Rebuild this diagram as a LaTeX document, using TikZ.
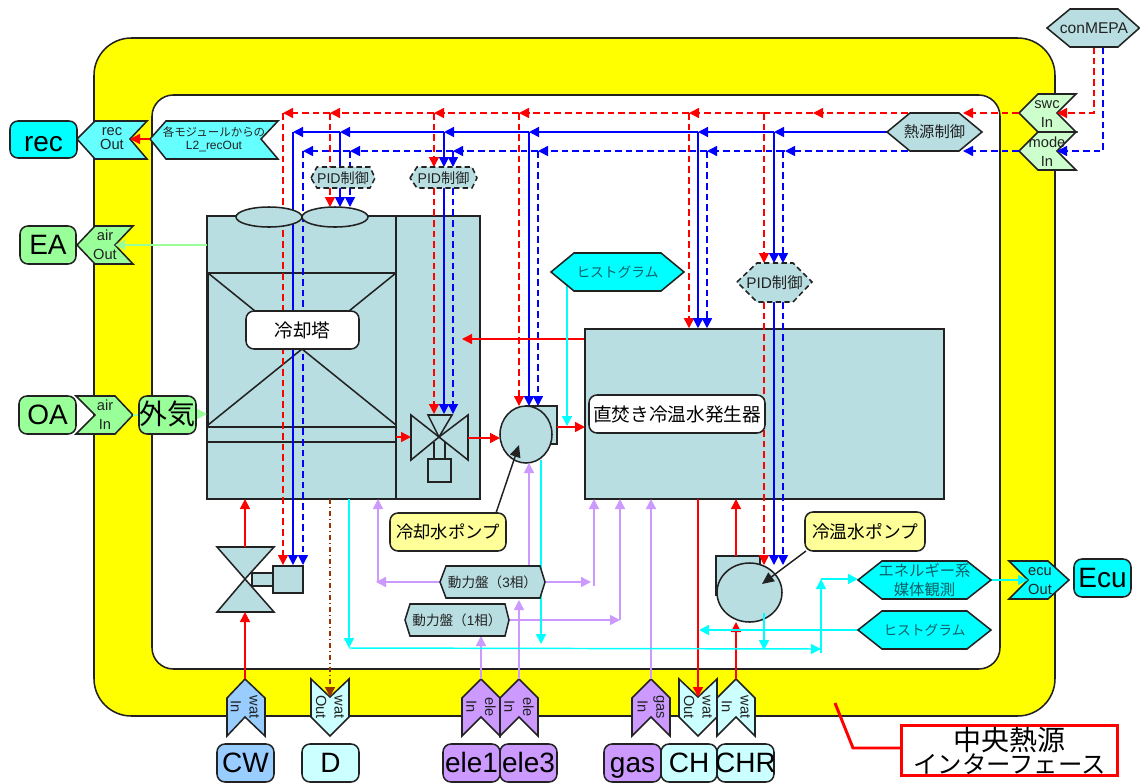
\documentclass[tikz,border=0pt]{standalone}
\usepackage{fontspec}
\setmainfont{Liberation Sans}
\newfontfamily\cjk{Noto Sans CJK JP}
\usetikzlibrary{arrows.meta,shapes.geometric}
\definecolor{cyan}{HTML}{00FFFF}
\definecolor{yellow}{HTML}{FFFF00}
\definecolor{red}{HTML}{FF0000}
\definecolor{blue}{HTML}{0000FF}
\definecolor{bx}{HTML}{B9DEE2}
\definecolor{lgreen}{HTML}{99FF99}
\definecolor{pgreen}{HTML}{CCFFCC}
\definecolor{lpur}{HTML}{CC99FF}
\definecolor{lcy}{HTML}{66FFFF}
\definecolor{pcy}{HTML}{CCFFFF}
\definecolor{lblue}{HTML}{99CCFF}
\definecolor{lyel}{HTML}{FFFF99}
\definecolor{brn}{HTML}{993300}
\definecolor{ink}{HTML}{222222}
\definecolor{teal2}{HTML}{0B6068}
\tikzset{
 ln/.style={draw=ink,line width=1.15pt,line join=miter},
 wh/.style 2 args={minimum width=#1*0.75pt,minimum height=#2*0.75pt},
 rbox/.style={ln,rounded corners=6pt,inner sep=0pt},
 big/.style={font=\fontsize{21}{23}\selectfont,text height=13.5pt,text depth=0pt},
 ptxt/.style={inner sep=0pt,align=center,font=\fontsize{11}{14}\selectfont,text=ink},
 htxt/.style={inner sep=0pt,align=center,text=ink},
 arw/.style={-{Triangle[length=7.5pt,width=7.5pt]}},
 rs/.style={draw=red,line width=1.1pt},
 bs/.style={draw=blue,line width=1.1pt},
 rd/.style={rs,dash pattern=on 5pt off 3pt},
 bd/.style={bs,dash pattern=on 5pt off 3pt},
 cy/.style={draw=cyan,line width=1.1pt},
 pu/.style={draw=lpur,line width=1.1pt},
 gr/.style={draw=lgreen,line width=1.1pt},
}
\begin{document}
\begin{tikzpicture}[x=0.75pt,y=-0.75pt]
\useasboundingbox (0,0) rectangle (1140,783);
% frames
\draw[ln,fill=yellow,rounded corners=28pt] (94,38) rectangle (1055,716);
\draw[ln,fill=white,rounded corners=16pt] (152,95) rectangle (1000,669);
% cooling tower
\draw[ln,fill=bx] (207,216) rectangle (396,499);
\draw[ln,fill=bx] (396,216) rectangle (480,499);
\draw[ln] (208,273) rectangle (396,427);
\draw[ln] (208,273) -- (396,425) (396,273) -- (208,425);
\draw[ln] (208,442) -- (396,442);
% chiller
\node[ln,fill=bx,minimum width=359*0.75pt,minimum height=170*0.75pt,inner sep=0pt] (chiller) at (764.5,414) {};
% valves
\coordinate (vc3) at (439,437);
\draw[ln,fill=bx] (vc3) -- (411,415) -- (411,460) -- cycle;
\draw[ln,fill=bx] (vc3) -- (468,415) -- (468,460) -- cycle;
\draw[ln,fill=bx] (vc3) -- (428,415) -- (452,415) -- cycle;
\draw[ln] (434,442) -- (434,459) (445,442) -- (445,459);
\draw[ln,fill=bx] (428,459) rectangle (451,482);
\coordinate (vc2) at (245,579);
\draw[ln,fill=bx] (vc2) -- (217,547) -- (274,547) -- cycle;
\draw[ln,fill=bx] (vc2) -- (217,612) -- (274,612) -- cycle;
\draw[ln,fill=bx] (252,573) -- (274,573) -- (274,586) -- (252,586) -- cycle;
\draw[ln,fill=bx] (273,566) rectangle (303,593);
% pumps
\draw[ln,fill=bx] (526,406) -- (557,406) -- (557,444) -- (526,444) -- cycle;
\node[ln,fill=bx,ellipse,minimum width=52*0.75pt,minimum height=57*0.75pt,inner sep=0pt] (pump1) at (526,434.5) {};
\draw[ln,fill=bx] (716,595) -- (716,556) -- (760,556) -- (760,595) -- cycle;
\node[ln,fill=bx,ellipse,minimum width=65*0.75pt,minimum height=59*0.75pt,inner sep=0pt] (pump3) at (749.5,592.5) {};
% ports (shapes)
\draw[ln,fill=lcy] (77,139) -- (95,121) -- (147,121) -- (130,139) -- (147,159) -- (95,159) -- cycle;
\draw[ln,fill=lcy] (150,139) -- (166,121) -- (278,121) -- (261,139) -- (278,159) -- (166,159) -- cycle;
\draw[ln,fill=lgreen] (77,245) -- (95,226) -- (133,226) -- (115,245) -- (133,264) -- (95,264) -- cycle;
\draw[ln,fill=lgreen] (76,396) -- (115,396) -- (133,415) -- (115,434) -- (76,434) -- (95,415) -- cycle;
\draw[ln,fill=pgreen] (1019,113) -- (1038,94) -- (1076,94) -- (1057,113) -- (1076,132) -- (1038,132) -- cycle;
\draw[ln,fill=pgreen] (1019,151) -- (1038,132) -- (1076,132) -- (1057,151) -- (1076,170) -- (1038,170) -- cycle;
\draw[ln,fill=cyan] (1009,561) -- (1048,561) -- (1069,580) -- (1048,599) -- (1009,599) -- (1028,580) -- cycle;
\draw[ln,fill=lblue] (245,679) -- (265,698) -- (265,736) -- (245,717) -- (227,736) -- (227,698) -- cycle;
\draw[ln,fill=pcy] (311,679) -- (330,697) -- (349,679) -- (349,717) -- (330,736) -- (311,717) -- cycle;
\draw[ln,fill=lpur] (481,679) -- (500,698) -- (500,736) -- (481,717) -- (462,736) -- (462,698) -- cycle;
\draw[ln,fill=lpur] (519,679) -- (538,698) -- (538,736) -- (519,717) -- (500,736) -- (500,698) -- cycle;
\draw[ln,fill=lpur] (651,679) -- (670,698) -- (670,736) -- (651,717) -- (632,736) -- (632,698) -- cycle;
\draw[ln,fill=pcy] (679,679) -- (698,697) -- (717,679) -- (717,717) -- (698,736) -- (679,717) -- cycle;
\draw[ln,fill=pcy] (736,679) -- (755,698) -- (755,736) -- (736,717) -- (717,736) -- (717,698) -- cycle;
% named end points
\coordinate (mr) at (1094,47); \coordinate (mb) at (1103,47);
\coordinate (swcT) at (1019,113); \coordinate (swcN) at (1057,113);
\coordinate (modT) at (1019,151); \coordinate (modN) at (1057,151);
\coordinate (hR) at (963,113); \coordinate (hB) at (963,151);
\coordinate (hrL) at (908,113); \coordinate (hbL) at (908,151); \coordinate (hsL) at (887,132);
\foreach \n/\x in {a/283,b/330,c/434,d/519,e/689,f/764}{\coordinate (r\n) at (\x,113);}
\foreach \n/\x in {a/293,b/340,c/444,d/529,e/698,f/774}{\coordinate (s\n) at (\x,132);}
\foreach \n/\x in {a/303,b/350,c/453,d/538,e/707,f/783}{\coordinate (t\n) at (\x,151);}
% control lines: horizontal
\draw[rd,arw] (mr) -- (1094,113) -- (swcN);
\draw[bd,arw] (mb) -- (1103,151) -- (modN);
\draw[rd,arw] (swcT) -- (hR);
\draw[bd,arw] (modT) -- (hB);
\draw[rd,arw] (hrL) -- (813,113);
\draw[rd] (813,113) -- (rf);
\draw[rd,arw] (rf) -- (re);
\draw[rd,arw] (re) -- (rd);
\draw[rd,arw] (rd) -- (rc);
\draw[rd,arw] (rc) -- (rb);
\draw[rd,arw] (rb) -- (ra);
\draw[bs,arw] (hsL) -- (sf);
\draw[bs,arw] (sf) -- (se);
\draw[bs,arw] (se) -- (sd);
\draw[bs,arw] (sd) -- (sc);
\draw[bs,arw] (sc) -- (sb);
\draw[bs,arw] (sb) -- (sa);
\draw[bd,arw] (hbL) -- (785,151);
\draw[bd] (785,151) -- (tf);
\draw[bd,arw] (tf) -- (te);
\draw[bd,arw] (te) -- (td);
\draw[bd,arw] (td) -- (tc);
\draw[bd,arw] (tc) -- (tb);
\draw[bd,arw] (tb) -- (ta);
% verticals
\draw[rd,arw] (ra) -- (283,565);
\draw[bs,arw] (sa) -- (293,565);
\draw[bd,arw] (ta) -- (303,565);
\draw[rd] (rb) -- (330,170); \draw[bs] (sb) -- (340,170); \draw[bd] (tb) -- (350,170);
\draw[rd,arw] (330,188) -- (330,207);
\draw[bs,arw] (340,188) -- (340,207);
\draw[bd,arw] (350,188) -- (350,207);
\draw[rd,arw] (rc) -- (434,167); \draw[bs,arw] (sc) -- (444,167); \draw[bd,arw] (tc) -- (453,167);
\draw[rd,arw] (434,188) -- (434,414);
\draw[bs,arw] (444,188) -- (444,414);
\draw[bd,arw] (453,188) -- (453,414);
\draw[rd,arw] (rd) -- (519,406);
\draw[bs,arw] (sd) -- (529,406);
\draw[bd,arw] (td) -- (538,406);
\draw[rd,arw] (re) -- (chiller.north -| re);
\draw[bs,arw] (se) -- (chiller.north -| se);
\draw[bd,arw] (te) -- (chiller.north -| te);
\draw[rd,arw] (rf) -- (764,263); \draw[bs,arw] (sf) -- (774,263); \draw[bd,arw] (tf) -- (783,263);
\draw[rd,arw] (764,302) -- (764,565);
\draw[bs,arw] (774,302) -- (774,565);
\draw[bd,arw] (783,302) -- (783,565);
% red process
\draw[rs,arw] (150,139) -- (130,139);
\draw[rs,arw] (245,547) -- (245,499);
\draw[rs,arw] (245,679) -- (245,612);
\draw[rs,arw] (396,437) -- (411,437);
\draw[rs,arw] (468,438) -- (500,438);
\draw[rs,arw] (557,427) -- (585,427);
\draw[rs,arw] (chiller.west |- 0,339) -- (462,339);
\draw[rs,arw] (698,499) -- (698,697);
\draw[rs,arw] (736,556) -- (736,499);
\draw[rs,arw] (736,679) -- (736,622);
% drain
\draw[brn,line width=1.1pt,dash pattern=on 4pt off 2pt on 1pt off 2pt,arw] (330,499) -- (330,697);
% air
\draw[gr,arw] (207,245) -- (115,245);
\draw[gr] (133,415) -- (139,415);
\draw[gr,arw] (196,414) -- (207,414);
% power
\draw[pu,arw] (440,582) -- (376,582);
\draw[pu,arw] (378,582) -- (378,499);
\draw[pu,arw] (545,582) -- (591,582);
\draw[pu,arw] (594,586) -- (594,499);
\draw[pu,arw] (529,566) -- (529,463);
\draw[pu,arw] (519,679) -- (519,600);
\draw[pu,arw] (481,679) -- (481,636);
\draw[pu,arw] (509,620) -- (620,620);
\draw[pu,arw] (620,620) -- (620,499);
\draw[pu,arw] (651,679) -- (651,499);
% cyan
\draw[cy,arw] (567,285) -- (567,426);
\draw[cy,arw] (541,460) -- (541,644);
\draw[cy,arw] (349,499) -- (349,648);
\draw[cy,arw] (349,648) -- (821,649);
\draw[cy,arw] (821,653) -- (821,579);
\draw[cy,arw] (821,579) -- (858,579);
\draw[cy,arw] (764,613) -- (764,650);
\draw[cy,arw] (858,630) -- (699,630);
\draw[cy,arw] (991,580) -- (1028,580);
% callouts and red leader
\draw[draw=ink,line width=1.1pt,-{Triangle[length=9pt,width=8pt]},fill=ink] (496,513) -- (519,445);
\draw[draw=ink,line width=1.1pt,-{Triangle[length=9pt,width=8pt]},fill=ink] (806,551) -- (762,584);
\draw[red,line width=2.2pt] (835,703) -- (853,748) -- (900,748);
% fans
\node[ln,fill=bx,ellipse,minimum width=66*0.75pt,minimum height=20*0.75pt,inner sep=0pt] (fan1) at (269,217) {};
\node[ln,fill=bx,ellipse,minimum width=66*0.75pt,minimum height=20*0.75pt,inner sep=0pt] (fan2) at (335,217) {};
% hexagons
\draw[ln,fill=bx] (1047,28) -- (1070,9) -- (1118,9) -- (1139.4,28) -- (1118,47) -- (1070,47) -- cycle;
\draw[ln,fill=bx] (887,132) -- (910,113) -- (959,113) -- (982,132) -- (959,151) -- (910,151) -- cycle;
\draw[ln,fill=cyan] (551,272) -- (574,253) -- (661,253) -- (684,272) -- (661,291) -- (574,291) -- cycle;
\draw[ln,fill=cyan] (858,630) -- (882,611) -- (967,611) -- (991,630) -- (967,649) -- (882,649) -- cycle;
\draw[ln,fill=cyan] (858,580) -- (882,561) -- (967,561) -- (991,580) -- (967,599) -- (882,599) -- cycle;
\draw[ln,fill=bx] (440,582) -- (446,566) -- (540,566) -- (545,582) -- (540,598) -- (446,598) -- cycle;
\draw[ln,fill=bx] (405,620) -- (410,604) -- (505,604) -- (509,620) -- (505,636) -- (410,636) -- cycle;
\tikzset{pid/.style={ln,fill=bx,dash pattern=on 4pt off 2.5pt}}
\draw[pid] (311,178) -- (317,167) -- (370,167) -- (375,178) -- (370,188) -- (317,188) -- cycle;
\draw[pid] (410,178) -- (417,167) -- (472,167) -- (477,178) -- (472,188) -- (417,188) -- cycle;
\draw[pid] (737,282) -- (757,263) -- (793,263) -- (812,282) -- (793,302) -- (757,302) -- cycle;
% terminal boxes
\node[rbox,big,text height=18pt,fill=cyan,wh={67}{37}] (rec) at (43.5,139.5) {rec};
\node[rbox,big,fill=lgreen,wh={56}{38}] (EA) at (48,245) {EA};
\node[rbox,big,fill=lgreen,wh={57}{38}] (OA) at (47.5,415) {OA};
\node[rbox,big,fill=lgreen,wh={57}{38}] (gaiki) at (167.5,415) {\cjk 外気};
\node[rbox,big,fill=cyan,wh={57}{38}] (Ecu) at (1102.5,578) {Ecu};
\node[rbox,big,fill=lblue,wh={57}{38}] (CW) at (245.5,763) {CW};
\node[rbox,big,fill=pcy,wh={57}{38}] (D) at (330.5,763) {D};
\node[rbox,big,fill=lpur,wh={57}{38}] (ele1) at (471.5,763) {ele1};
\node[rbox,big,fill=lpur,wh={57}{38}] (ele3) at (528.5,763) {ele3};
\node[rbox,big,fill=lpur,wh={57}{38}] (gas) at (632.5,763) {gas};
\node[rbox,big,fill=pcy,wh={56}{38}] (CH) at (689,763) {CH};
\node[rbox,big,fill=pcy,wh={57}{38}] (CHR) at (745.5,763) {\makebox[0pt]{CHR}};
% labelled boxes
\node[rbox,fill=white,wh={113}{38},font=\cjk\fontsize{14}{16}\selectfont] (tower) at (302.5,330) {冷却塔};
\node[rbox,fill=white,wh={176}{38},font=\cjk\fontsize{14}{16}\selectfont] (chlabel) at (677,414) {直焚き冷温水発生器};
\node[rbox,fill=lyel,wh={116}{38},font=\cjk\fontsize{13}{15}\selectfont] (cwp) at (448,532) {冷却水ポンプ};
\node[rbox,fill=lyel,wh={120}{39},font=\cjk\fontsize{13.3}{15}\selectfont] (chp) at (865,531.5) {冷温水ポンプ};
\node[rectangle,draw=red,fill=white,line width=2.4pt,wh={216}{50},inner sep=0pt,align=center,font=\cjk\fontsize{18.3}{17.5}\selectfont] (central) at (1009.5,750.5) {{\fontsize{21}{17.5}\selectfont 中央熱源}\\インターフェース};
% port texts
\node[ptxt,font=\fontsize{11}{10.5}\selectfont] (recOut) at (112,139) {rec\\Out};
\node[htxt,font=\cjk\fontsize{8.6}{10}\selectfont] (recL2) at (214,139) {各モジュールからの\\{\rmfamily\fontsize{9}{10}\selectfont L2\_recOut}};
\node[ptxt] (airOut) at (105,245) {air\\Out};
\node[ptxt] (airIn) at (105,415) {air\\In};
\node[ptxt] (swcIn) at (1047,114) {swc\\In};
\node[ptxt] (modeIn) at (1047,152) {mode\\In};
\node[ptxt] (ecuOut) at (1040,581) {ecu\\Out};
\node[ptxt,rotate=-90] (pCW) at (245,707) {wat\\In};
\node[ptxt,rotate=-90] (pD) at (330,707) {wat\\Out};
\node[ptxt,rotate=-90] (pE1) at (481,707) {ele\\In};
\node[ptxt,rotate=-90] (pE3) at (519,707) {ele\\In};
\node[ptxt,rotate=-90] (pG) at (651,707) {gas\\In};
\node[ptxt,rotate=-90] (pCH) at (698,707) {wat\\Out};
\node[ptxt,rotate=-90] (pCHR) at (736,707) {wat\\In};
% hexagon texts
\node[htxt,font=\fontsize{11.7}{13}\selectfont] (con) at (1094,28) {conMEPA};
\node[htxt,font=\cjk\fontsize{11.5}{13}\selectfont] (heat) at (934.5,132) {熱源制御};
\node[htxt,text=teal2,font=\cjk\fontsize{10.3}{12}\selectfont] (hist1) at (617.5,272) {ヒストグラム};
\node[htxt,text=teal2,font=\cjk\fontsize{10.3}{12}\selectfont] (hist2) at (924.5,630) {ヒストグラム};
\node[htxt,text=teal2,font=\cjk\fontsize{11.5}{14}\selectfont] (ener) at (924.5,580) {エネルギー系\\媒体観測};
\node[htxt,font=\cjk\fontsize{10.2}{11}\selectfont] (pw3) at (492.5,582) {動力盤（{\rmfamily 3}相）};
\node[htxt,font=\cjk\fontsize{10.2}{11}\selectfont] (pw1) at (457,620) {動力盤（{\rmfamily 1}相）};
\node[htxt,font=\fontsize{10.6}{12}\selectfont] (pid1) at (343,178) {PID{\cjk 制御}};
\node[htxt,font=\fontsize{10.6}{12}\selectfont] (pid2) at (443.5,178) {PID{\cjk 制御}};
\node[htxt,font=\fontsize{11.5}{12}\selectfont] (pid3) at (774.5,283) {PID{\cjk 制御}};
\end{tikzpicture}
\end{document}
